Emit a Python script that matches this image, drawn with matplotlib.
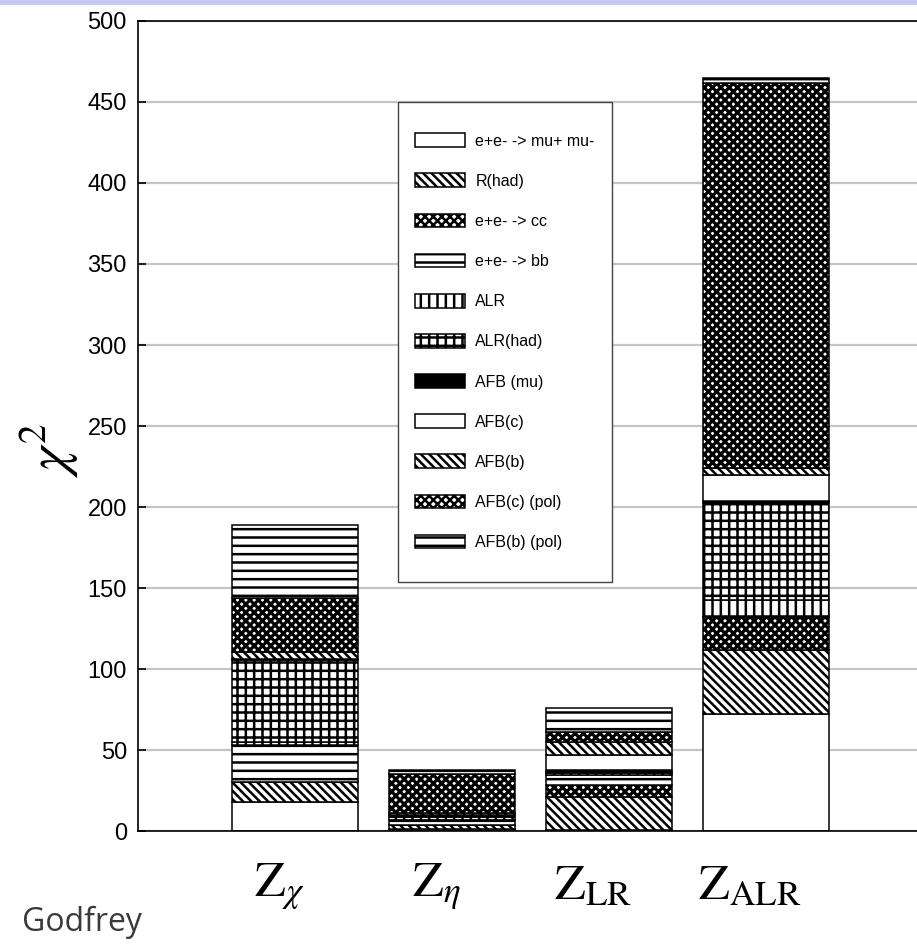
import matplotlib
matplotlib.use('Agg')
import numpy as np
import matplotlib.pyplot as plt
from matplotlib.patches import Rectangle
from matplotlib.transforms import ScaledTranslation

# Data: chi^2 contribution of each observable, per model

models = [r'$\mathrm{Z}_{\chi}$', r'$\mathrm{Z}_{\eta}$',
          r'$\mathrm{Z}_{\mathrm{LR}}$', r'$\mathrm{Z}_{\mathrm{ALR}}$']

observables = ['e+e- -> mu+ mu-', 'R(had)', 'e+e- -> cc', 'e+e- -> bb', 'ALR',
               'ALR(had)', 'AFB (mu)', 'AFB(c)', 'AFB(b)', 'AFB(c) (pol)', 'AFB(b) (pol)']

mumu      = [18.0, 1.0, 0.5, 72.0]
rhad      = [12.4, 3.0, 20.7, 40.0]
cc        = [0.0, 0.0, 7.2, 20.0]
bb        = [22.6, 3.0, 6.2, 1.0]
alr       = [2.0, 0.0, 1.0, 9.5]
alr_had   = [50.5, 2.0, 1.0, 60.0]
afb_mu    = [1.0, 1.0, 1.1, 1.0]
afb_c     = [0.0, 0.0, 9.2, 16.5]
afb_b     = [4.2, 1.0, 8.2, 4.0]
afb_c_pol = [32.9, 24.0, 6.2, 237.5]
afb_b_pol = [45.3, 2.5, 14.4, 3.0]

series = [mumu, rhad, cc, bb, alr, alr_had, afb_mu, afb_c, afb_b, afb_c_pol, afb_b_pol]

# Fill styles (face colour, hatch)

diag = '\\' * 4
cross = 'x' * 4
horiz = '--'
vert = '||'
styles = [('white', ''), ('white', diag), ('white', cross), ('white', horiz),
          ('white', vert), ('white', vert + horiz), ('black', ''), ('white', ''),
          ('white', diag), ('white', cross), ('white', horiz)]

sans = 'Liberation Sans'
plt.rcParams['mathtext.fontset'] = 'stix'
plt.rcParams['hatch.linewidth'] = 1.8
plt.rcParams['hatch.color'] = 'black'

fig = plt.figure(figsize=(9.17, 9.52), dpi=100)
ax = fig.add_axes([0.1505, 0.127, 0.856, 0.851])

x = np.arange(1, len(models) + 1)
bottom = np.zeros(len(models))
handles = []
for vals, (fc, h), name in zip(series, styles, observables):
    bars = ax.bar(x, vals, width=0.8, bottom=bottom, color=fc, hatch=h,
                  edgecolor='black', linewidth=1.1, label=name)
    if h == cross:
        for b in bars:
            if hasattr(b, 'set_hatch_linewidth'):
                b.set_hatch_linewidth(2.3)
    handles.append(bars)
    bottom += np.array(vals)

ax.set_xlim(0, 5)
ax.set_ylim(0, 500)
ax.set_yticks(np.arange(0, 501, 50))
ax.set_xticks(x)
ax.set_xticklabels(models, fontsize=36)
ax.tick_params(axis='x', length=0, pad=22)
ax.tick_params(axis='y', direction='in', length=6, width=1.2, pad=8, labelsize=17)
for lab in ax.get_yticklabels():
    lab.set_fontfamily(sans)
for lab in ax.get_xticklabels():
    lab.set_transform(lab.get_transform() + ScaledTranslation(-0.16, 0, fig.dpi_scale_trans))

ax.grid(axis='y', color='#c4c4c4', linewidth=1.6)
ax.set_axisbelow(True)
for s in ['left', 'top', 'bottom']:
    ax.spines[s].set_linewidth(1.2)
ax.spines['right'].set_visible(False)

ax.set_ylabel(r'$\chi^2$', fontsize=40, rotation=90)
ax.yaxis.set_label_coords(-0.072, 0.47)

leg = ax.legend(handles=handles, loc='upper left', bbox_to_anchor=(0.331, 0.882),
                prop={'family': sans, 'size': 11.5}, handlelength=3.13,
                handleheight=0.95, labelspacing=1.55, handletextpad=0.68,
                borderpad=1.05, borderaxespad=0, frameon=False)
leg.set_zorder(6)

# Legend frame: taller than the entries, as in the original
fig.canvas.draw()
bb_leg = leg.get_window_extent().transformed(ax.transAxes.inverted())
extra = 15 / ax.get_window_extent().height
ax.add_patch(Rectangle((bb_leg.x0, bb_leg.y0 - extra), bb_leg.width, bb_leg.height + 2 * extra,
                       transform=ax.transAxes, facecolor='white', edgecolor='#444444',
                       linewidth=1.0, zorder=5.5, clip_on=False))

fig.text(0.024, 0.022, 'Godfrey', fontsize=23, family='Open Sans', color='#3a3a3a')

fig.add_artist(Rectangle((0, 0.996), 1, 0.004, transform=fig.transFigure,
                         color='#c8c8f4', zorder=0))

fig.savefig('out.png', dpi=100)
